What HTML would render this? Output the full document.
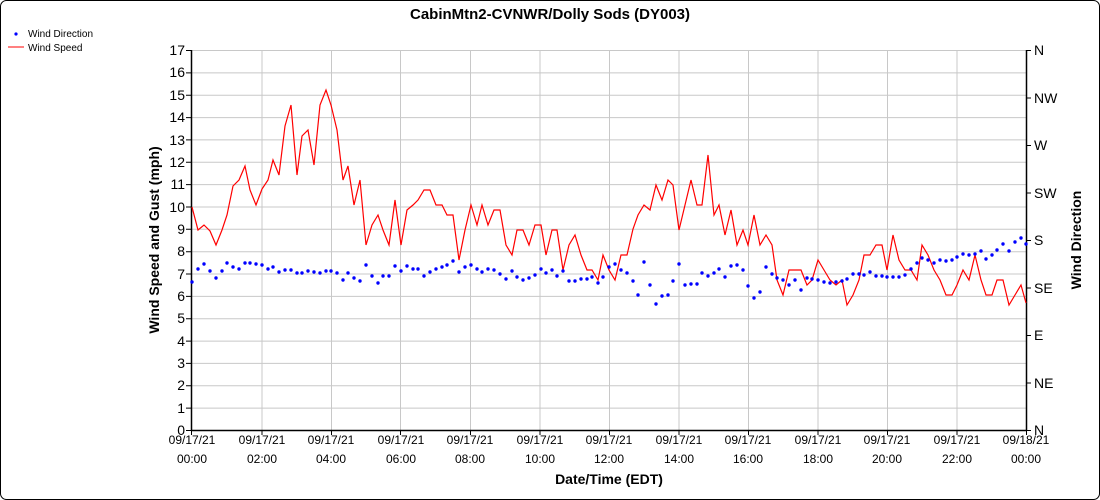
<!DOCTYPE html>
<html><head><meta charset="utf-8"><style>
body{margin:0;background:#fff;}
svg{display:block;font-family:"Liberation Sans",Arial,sans-serif;}
</style></head><body>
<svg width="1100" height="500" viewBox="0 0 1100 500">
<rect x="0.5" y="0.5" width="1099" height="499" rx="6" fill="#fff" stroke="#000"/>
<text x="550" y="19" text-anchor="middle" font-size="15" font-weight="bold">CabinMtn2-CVNWR/Dolly Sods (DY003)</text>
<circle cx="16" cy="34" r="1.6" fill="#00f"/>
<text x="28" y="37" font-size="10">Wind Direction</text>
<line x1="8" y1="47" x2="24" y2="47" stroke="#f00"/>
<text x="28" y="51" font-size="10">Wind Speed</text>
<g stroke="#c8c8c8">
<line x1="191" x2="1026" y1="50.5" y2="50.5"/><line x1="191" x2="1026" y1="72.9" y2="72.9"/><line x1="191" x2="1026" y1="95.2" y2="95.2"/><line x1="191" x2="1026" y1="117.6" y2="117.6"/><line x1="191" x2="1026" y1="139.9" y2="139.9"/><line x1="191" x2="1026" y1="162.3" y2="162.3"/><line x1="191" x2="1026" y1="184.6" y2="184.6"/><line x1="191" x2="1026" y1="207" y2="207"/><line x1="191" x2="1026" y1="229.3" y2="229.3"/><line x1="191" x2="1026" y1="251.7" y2="251.7"/><line x1="191" x2="1026" y1="274" y2="274"/><line x1="191" x2="1026" y1="296.4" y2="296.4"/><line x1="191" x2="1026" y1="318.7" y2="318.7"/><line x1="191" x2="1026" y1="341.1" y2="341.1"/><line x1="191" x2="1026" y1="363.4" y2="363.4"/><line x1="191" x2="1026" y1="385.8" y2="385.8"/><line x1="191" x2="1026" y1="408.1" y2="408.1"/>
<line y1="50" y2="430" x1="262" x2="262"/><line y1="50" y2="430" x1="331.5" x2="331.5"/><line y1="50" y2="430" x1="400.5" x2="400.5"/><line y1="50" y2="430" x1="470.5" x2="470.5"/><line y1="50" y2="430" x1="540" x2="540"/><line y1="50" y2="430" x1="609.5" x2="609.5"/><line y1="50" y2="430" x1="679" x2="679"/><line y1="50" y2="430" x1="748.5" x2="748.5"/><line y1="50" y2="430" x1="818" x2="818"/><line y1="50" y2="430" x1="887.5" x2="887.5"/><line y1="50" y2="430" x1="957" x2="957"/>
</g>
<g stroke="#000" stroke-width="1.5">
<line x1="191.5" y1="50" x2="191.5" y2="431"/><line x1="191" y1="430.5" x2="1027" y2="430.5"/><line x1="1026.5" y1="50" x2="1026.5" y2="431"/>
</g>
<g stroke="#000">
<path d="M186 50.5h5M186 72.9h5M186 95.2h5M186 117.6h5M186 139.9h5M186 162.3h5M186 184.6h5M186 207h5M186 229.3h5M186 251.7h5M186 274h5M186 296.4h5M186 318.7h5M186 341.1h5M186 363.4h5M186 385.8h5M186 408.1h5M186 430.5h5"/>
<path d="M1026 50.5h5M1026 98h5M1026 145.5h5M1026 193h5M1026 240.5h5M1026 288h5M1026 335.5h5M1026 383h5M1026 430.5h5"/>
<path d="M191.5 430v5M262 430v5M331.5 430v5M400.5 430v5M470.5 430v5M540 430v5M609.5 430v5M679 430v5M748.5 430v5M818 430v5M887.5 430v5M957 430v5M1026.5 430v5"/>
</g>
<g font-size="14" text-anchor="end">
<text x="185" y="55">17</text><text x="185" y="77">16</text><text x="185" y="100">15</text><text x="185" y="122">14</text><text x="185" y="145">13</text><text x="185" y="167">12</text><text x="185" y="189">11</text><text x="185" y="212">10</text><text x="185" y="234">9</text><text x="185" y="256">8</text><text x="185" y="279">7</text><text x="185" y="301">6</text><text x="185" y="323">5</text><text x="185" y="346">4</text><text x="185" y="368">3</text><text x="185" y="390">2</text><text x="185" y="413">1</text><text x="185" y="435">0</text>
</g>
<g font-size="14">
<text x="1034" y="55">N</text><text x="1034" y="103">NW</text><text x="1034" y="150">W</text><text x="1034" y="198">SW</text><text x="1034" y="245">S</text><text x="1034" y="293">SE</text><text x="1034" y="340">E</text><text x="1034" y="388">NE</text><text x="1034" y="435">N</text>
</g>
<g font-size="12" text-anchor="middle">
<text x="192" y="444">09/17/21</text><text x="192" y="463">00:00</text>
<text x="262" y="444">09/17/21</text><text x="262" y="463">02:00</text>
<text x="331" y="444">09/17/21</text><text x="331" y="463">04:00</text>
<text x="401" y="444">09/17/21</text><text x="401" y="463">06:00</text>
<text x="470" y="444">09/17/21</text><text x="470" y="463">08:00</text>
<text x="540" y="444">09/17/21</text><text x="540" y="463">10:00</text>
<text x="609" y="444">09/17/21</text><text x="609" y="463">12:00</text>
<text x="679" y="444">09/17/21</text><text x="679" y="463">14:00</text>
<text x="748" y="444">09/17/21</text><text x="748" y="463">16:00</text>
<text x="818" y="444">09/17/21</text><text x="818" y="463">18:00</text>
<text x="887" y="444">09/17/21</text><text x="887" y="463">20:00</text>
<text x="957" y="444">09/17/21</text><text x="957" y="463">22:00</text>
<text x="1026" y="444">09/18/21</text><text x="1026" y="463">00:00</text>
</g>
<text x="609" y="484" text-anchor="middle" font-size="14" font-weight="bold">Date/Time (EDT)</text>
<text transform="translate(159,240) rotate(-90)" text-anchor="middle" font-size="14" font-weight="bold">Wind Speed and Gust (mph)</text>
<text transform="translate(1081,240) rotate(-90)" text-anchor="middle" font-size="14" font-weight="bold">Wind Direction</text>
<polyline fill="none" stroke="#f00" stroke-width="1.2" points="192,207 198,230 204,225 210,231 216,245 222,230 227,215 233,186 239,180 245,166 250,190 256,205 262,189 268,180 273,160 279,175 285,126 291,105 297,175 302,136 308,130 314,165 320,105 326,90 331,105 337,130 343,180 348,166 354,205 360,180 366,245 372,225 378,215 383,230 389,245 395,200 401,245 407,210 413,205 418,200 424,190 430,190 436,205 442,205 447,215 453,215 459,260 465,230 471,205 477,225 482,205 488,225 494,210 500,210 506,245 512,255 517,230 523,230 529,245 535,225 541,225 546,255 552,230 557,230 563,270 569,245 575,235 581,255 587,270 592,270 598,280 603,255 609,270 615,280 621,255 627,255 633,229 638,215 644,205 650,210 656,185 662,200 668,180 673,185 679,230 685,205 691,180 697,205 702,205 708,155 714,215 719,205 725,235 731,210 737,245 743,230 748,245 754,215 760,245 766,235 772,245 777,280 783,295 789,270 795,270 801,270 807,285 812,280 818,260 824,270 830,280 836,285 842,280 847,305 853,295 859,280 864,255 870,255 876,245 882,245 887,270 893,235 899,260 905,270 911,270 917,280 922,245 928,255 934,270 940,280 946,295 952,295 957,285 963,270 969,280 975,255 981,280 986,295 992,295 997,280 1003,280 1009,305 1015,295 1021,285 1026,303"/>
<g fill="#00f" stroke="none">
<circle r="1.7" cx="192" cy="282"/><circle r="1.7" cx="198" cy="269"/><circle r="1.7" cx="204" cy="264"/><circle r="1.7" cx="210" cy="271"/><circle r="1.7" cx="216" cy="278"/><circle r="1.7" cx="222" cy="271"/><circle r="1.7" cx="227" cy="263"/><circle r="1.7" cx="233" cy="267"/><circle r="1.7" cx="239" cy="269"/><circle r="1.7" cx="245" cy="263"/><circle r="1.7" cx="250" cy="263"/><circle r="1.7" cx="256" cy="264"/><circle r="1.7" cx="262" cy="265"/><circle r="1.7" cx="268" cy="269"/><circle r="1.7" cx="273" cy="267"/><circle r="1.7" cx="279" cy="272"/><circle r="1.7" cx="285" cy="270"/><circle r="1.7" cx="291" cy="270"/><circle r="1.7" cx="297" cy="273"/><circle r="1.7" cx="302" cy="273"/><circle r="1.7" cx="308" cy="271"/><circle r="1.7" cx="314" cy="272"/><circle r="1.7" cx="320" cy="273"/><circle r="1.7" cx="326" cy="271"/><circle r="1.7" cx="331" cy="271"/><circle r="1.7" cx="337" cy="273"/><circle r="1.7" cx="343" cy="280"/><circle r="1.7" cx="348" cy="273"/><circle r="1.7" cx="354" cy="278"/><circle r="1.7" cx="360" cy="281"/><circle r="1.7" cx="366" cy="265"/><circle r="1.7" cx="372" cy="276"/><circle r="1.7" cx="378" cy="283"/><circle r="1.7" cx="383" cy="276"/><circle r="1.7" cx="389" cy="276"/><circle r="1.7" cx="395" cy="266"/><circle r="1.7" cx="401" cy="271"/><circle r="1.7" cx="407" cy="266"/><circle r="1.7" cx="413" cy="269"/><circle r="1.7" cx="418" cy="269"/><circle r="1.7" cx="424" cy="276"/><circle r="1.7" cx="430" cy="272"/><circle r="1.7" cx="436" cy="269"/><circle r="1.7" cx="442" cy="267"/><circle r="1.7" cx="447" cy="265"/><circle r="1.7" cx="453" cy="261"/><circle r="1.7" cx="459" cy="272"/><circle r="1.7" cx="465" cy="267"/><circle r="1.7" cx="471" cy="265"/><circle r="1.7" cx="477" cy="269"/><circle r="1.7" cx="482" cy="272"/><circle r="1.7" cx="488" cy="269"/><circle r="1.7" cx="494" cy="270"/><circle r="1.7" cx="500" cy="274"/><circle r="1.7" cx="506" cy="279"/><circle r="1.7" cx="512" cy="271"/><circle r="1.7" cx="517" cy="277"/><circle r="1.7" cx="523" cy="280"/><circle r="1.7" cx="529" cy="278"/><circle r="1.7" cx="535" cy="275"/><circle r="1.7" cx="541" cy="269"/><circle r="1.7" cx="546" cy="273"/><circle r="1.7" cx="552" cy="270"/><circle r="1.7" cx="557" cy="276"/><circle r="1.7" cx="563" cy="271"/><circle r="1.7" cx="569" cy="281"/><circle r="1.7" cx="575" cy="281"/><circle r="1.7" cx="581" cy="279"/><circle r="1.7" cx="587" cy="279"/><circle r="1.7" cx="592" cy="277"/><circle r="1.7" cx="598" cy="283"/><circle r="1.7" cx="603" cy="277"/><circle r="1.7" cx="609" cy="267"/><circle r="1.7" cx="615" cy="264"/><circle r="1.7" cx="621" cy="270"/><circle r="1.7" cx="627" cy="273"/><circle r="1.7" cx="633" cy="281"/><circle r="1.7" cx="638" cy="295"/><circle r="1.7" cx="644" cy="262"/><circle r="1.7" cx="650" cy="285"/><circle r="1.7" cx="656" cy="304"/><circle r="1.7" cx="662" cy="296"/><circle r="1.7" cx="668" cy="295"/><circle r="1.7" cx="673" cy="281"/><circle r="1.7" cx="679" cy="264"/><circle r="1.7" cx="685" cy="285"/><circle r="1.7" cx="691" cy="284"/><circle r="1.7" cx="697" cy="284"/><circle r="1.7" cx="702" cy="273"/><circle r="1.7" cx="708" cy="276"/><circle r="1.7" cx="714" cy="273"/><circle r="1.7" cx="719" cy="269"/><circle r="1.7" cx="725" cy="277"/><circle r="1.7" cx="731" cy="266"/><circle r="1.7" cx="737" cy="265"/><circle r="1.7" cx="743" cy="270"/><circle r="1.7" cx="748" cy="286"/><circle r="1.7" cx="754" cy="298"/><circle r="1.7" cx="760" cy="292"/><circle r="1.7" cx="766" cy="267"/><circle r="1.7" cx="772" cy="274"/><circle r="1.7" cx="777" cy="278"/><circle r="1.7" cx="783" cy="280"/><circle r="1.7" cx="789" cy="285"/><circle r="1.7" cx="795" cy="280"/><circle r="1.7" cx="801" cy="290"/><circle r="1.7" cx="807" cy="278"/><circle r="1.7" cx="812" cy="279"/><circle r="1.7" cx="818" cy="280"/><circle r="1.7" cx="824" cy="282"/><circle r="1.7" cx="830" cy="283"/><circle r="1.7" cx="836" cy="282"/><circle r="1.7" cx="842" cy="281"/><circle r="1.7" cx="847" cy="279"/><circle r="1.7" cx="853" cy="274"/><circle r="1.7" cx="859" cy="274"/><circle r="1.7" cx="864" cy="275"/><circle r="1.7" cx="870" cy="272"/><circle r="1.7" cx="876" cy="276"/><circle r="1.7" cx="882" cy="276"/><circle r="1.7" cx="887" cy="277"/><circle r="1.7" cx="893" cy="277"/><circle r="1.7" cx="899" cy="277"/><circle r="1.7" cx="905" cy="275"/><circle r="1.7" cx="911" cy="269"/><circle r="1.7" cx="917" cy="263"/><circle r="1.7" cx="922" cy="258"/><circle r="1.7" cx="928" cy="260"/><circle r="1.7" cx="934" cy="263"/><circle r="1.7" cx="940" cy="260"/><circle r="1.7" cx="946" cy="261"/><circle r="1.7" cx="952" cy="260"/><circle r="1.7" cx="957" cy="257"/><circle r="1.7" cx="963" cy="254"/><circle r="1.7" cx="969" cy="255"/><circle r="1.7" cx="975" cy="254"/><circle r="1.7" cx="981" cy="251"/><circle r="1.7" cx="986" cy="259"/><circle r="1.7" cx="992" cy="255"/><circle r="1.7" cx="997" cy="250"/><circle r="1.7" cx="1003" cy="244"/><circle r="1.7" cx="1009" cy="251"/><circle r="1.7" cx="1015" cy="242"/><circle r="1.7" cx="1021" cy="238"/><circle r="1.7" cx="1026" cy="244"/>
</g>
</svg>
</body></html>
